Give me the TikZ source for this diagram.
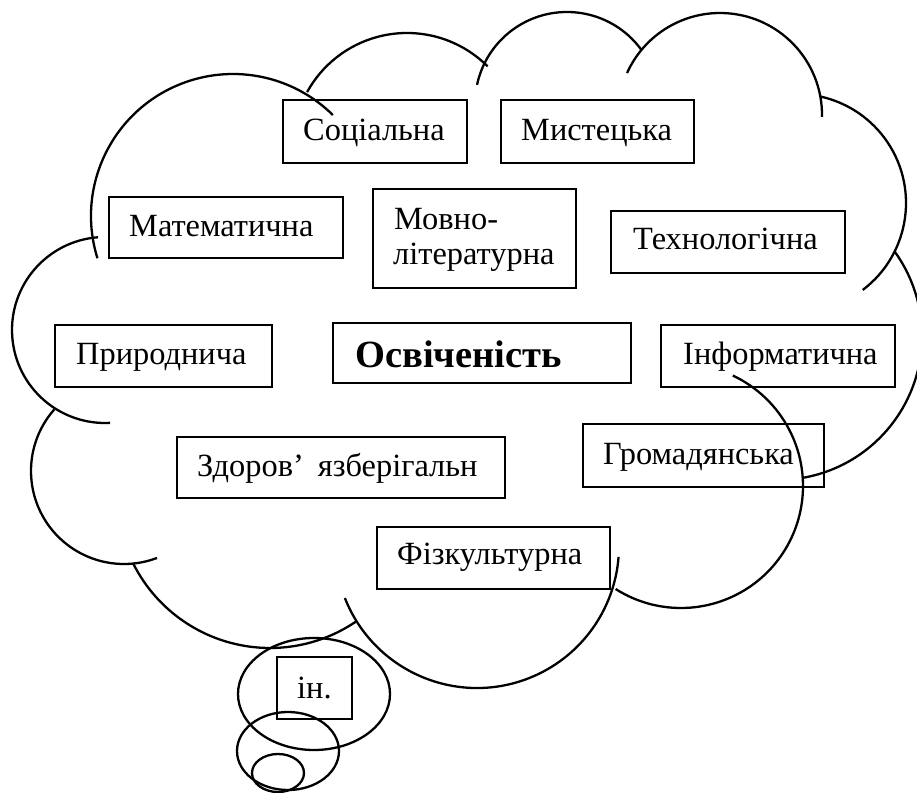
\documentclass[tikz,border=0pt]{standalone}
\usepackage{fontspec}
\setmainfont{Liberation Serif}
\begin{document}
\begin{tikzpicture}[x=1pt,y=1pt,
  cloudline/.style={line width=2.3pt},
  boxline/.style={draw, line width=1.9pt, inner sep=0pt, rectangle},
  lbl/.style={inner sep=0pt, anchor=base west, font=\fontsize{32.4}{35}\selectfont},
  boldlbl/.style={lbl, font=\fontsize{38.5}{42}\selectfont\bfseries}]
\useasboundingbox (0,0) rectangle (917,792);

% cloud outline, one arc per lobe: \lobe{centre x}{centre y}{radius}{from}{to}
\newcommand{\lobe}[5]{\draw[cloudline] ([shift={(#4:#3pt)}]#1,#2) arc[start angle=#4, end angle=#5, radius=#3pt];}
\lobe{233}{576}{142}{197.3}{45.3}
\lobe{105}{462}{93}{94.3}{273.1}
\lobe{124}{321}{93}{138.5}{290.8}
\lobe{270}{297}{153}{206.4}{304.1}
\lobe{477}{246}{142}{201.5}{355.6}
\lobe{681}{306}{122}{237.6}{424.9}
\lobe{778}{456}{144}{279.6}{395.7}
\lobe{797}{589}{109}{-52.9}{77.8}
\lobe{720}{677}{102}{-1.1}{155.7}
\lobe{567}{688}{92}{36.3}{168}
\lobe{407}{645}{114}{45}{151.2}

% thought bubbles under the cloud
\draw[cloudline] (314,98) ellipse [x radius=76pt, y radius=56pt];
\draw[cloudline] (288,41) ellipse [x radius=51pt, y radius=39pt];
\draw[cloudline] (278,19) ellipse [x radius=26pt, y radius=19pt];

% frames
\node[boxline, minimum width=184pt, minimum height=63pt] (socbox) at (375,660.5) {};
\node[boxline, minimum width=193pt, minimum height=63pt] (mystbox) at (597.5,660.5) {};
\node[boxline, minimum width=234pt, minimum height=61pt] (matbox) at (226,564.5) {};
\node[boxline, minimum width=203pt, minimum height=99pt] (movbox) at (474.5,553.5) {};
\node[boxline, minimum width=234pt, minimum height=62pt] (techbox) at (728,550) {};
\node[boxline, minimum width=217pt, minimum height=62pt] (pryrbox) at (163.5,436) {};
\node[boxline, minimum width=298pt, minimum height=60pt] (osvbox) at (482,439) {};
\node[boxline, minimum width=234pt, minimum height=62pt] (infbox) at (778,436) {};
\node[boxline, minimum width=328pt, minimum height=61pt] (zdorbox) at (341,324.5) {};
\node[boxline, minimum width=241pt, minimum height=63pt] (hrombox) at (703.5,336.5) {};
\node[boxline, minimum width=233pt, minimum height=62pt] (fizbox) at (493.5,234) {};
\node[boxline, minimum width=75pt, minimum height=62pt] (inbox) at (314.5,104) {};

% labels
\node[lbl] (soc) at (303,651) {Соціальна};
\node[lbl] (myst) at (521,651) {Мистецька};
\node[lbl] (mat) at (129,555) {Математична};
\node[lbl] (mov1) at (394,562) {Мовно-};
\node[lbl] (mov2) at (393,527) {літературна};
\node[lbl] (tech) at (633,542) {Технологічна};
\node[lbl] (pryr) at (76,427) {Природнича};
\node[boldlbl] (osv) at (355,424) {Освіченість};
\node[lbl] (inf) at (683,427) {Інформатична};
\node[lbl] (zdor) at (197,315) {Здоров’\hspace{6pt} язберігальн};
\node[lbl] (hrom) at (603,327) {Громадянська};
\node[lbl] (fiz) at (397,227) {Фізкультурна};
\node[lbl] (in) at (297,94) {ін.};
\end{tikzpicture}
\end{document}
